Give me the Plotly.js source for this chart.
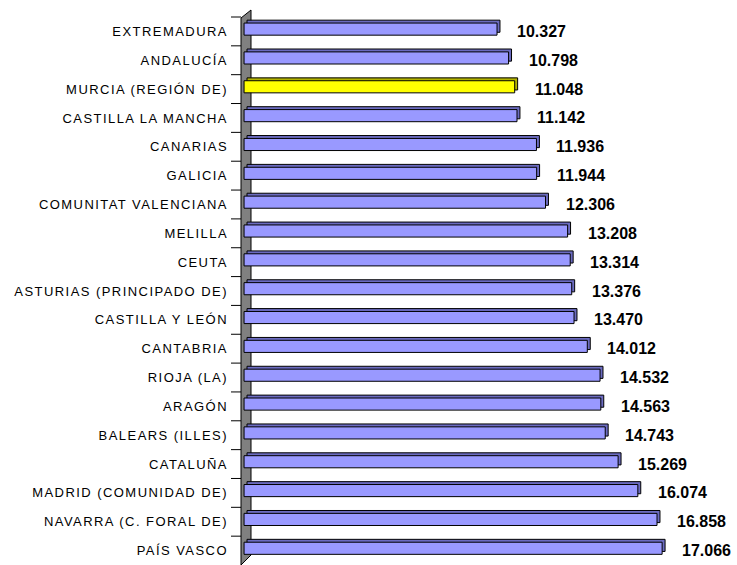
<!DOCTYPE html>
<html>
<head>
<meta charset="utf-8">
<script src="https://cdn.plot.ly/plotly-3.0.1.min.js"></script>
<style>
  html, body { margin: 0; padding: 0; background: #fff; }
  #chart { width: 737px; height: 565px; }
  .ytick text { letter-spacing: 1.45px; }
</style>
</head>
<body>
<div id="chart"></div>
<script>
const categories = [
  'EXTREMADURA', 'ANDALUCÍA', 'MURCIA (REGIÓN DE)', 'CASTILLA LA MANCHA', 'CANARIAS',
  'GALICIA', 'COMUNITAT VALENCIANA', 'MELILLA', 'CEUTA', 'ASTURIAS (PRINCIPADO DE)',
  'CASTILLA Y LEÓN', 'CANTABRIA', 'RIOJA (LA)', 'ARAGÓN', 'BALEARS (ILLES)',
  'CATALUÑA', 'MADRID (COMUNIDAD DE)', 'NAVARRA (C. FORAL DE)', 'PAÍS VASCO'
];
const values = [
  10.327, 10.798, 11.048, 11.142, 11.936,
  11.944, 12.306, 13.208, 13.314, 13.376,
  13.470, 14.012, 14.532, 14.563, 14.743,
  15.269, 16.074, 16.858, 17.066
];
const highlighted = 'MURCIA (REGIÓN DE)';

const frontColors = categories.map(c => c === highlighted ? '#FFFF00' : '#9999FF');
const sideColors = categories.map(c => c === highlighted ? '#B3B300' : '#6B6BC0');

const barWidth = 0.42;
const back = {
  type: 'bar', orientation: 'h', y: categories, x: values,
  base: 0.12, width: barWidth, offset: -0.39,
  marker: { color: sideColors, line: { color: '#000000', width: 1 } },
  hoverinfo: 'skip', showlegend: false
};
const front = {
  type: 'bar', orientation: 'h', y: categories, x: values,
  base: 0, width: barWidth, offset: -0.29,
  marker: { color: frontColors, line: { color: '#000000', width: 1 } },
  showlegend: false
};

const annotations = categories.map((c, i) => ({
  x: values[i], y: c, xref: 'x', yref: 'y',
  text: values[i].toFixed(3), showarrow: false,
  xanchor: 'left', xshift: 18, yshift: 0,
  font: { family: 'Arial, Liberation Sans, sans-serif', size: 16, color: '#000', weight: 'bold' }
}));

const W = 737, H = 565, ml = 241, mr = 3, mt = 17, mb = 0;
const pw = W - ml - mr, ph = H - mt - mb;
const px = x => (x - ml) / pw;
const py = y => (H - mb - y) / ph;
const wallPath = `M ${px(241)},${py(18)} L ${px(251)},${py(10)} L ${px(251)},${py(555)} L ${px(241)},${py(565)} Z`;

const shapes = [{
  type: 'path', xref: 'paper', yref: 'paper', path: wallPath,
  fillcolor: '#808080', line: { color: '#000', width: 1 }, layer: 'below'
}];
// tick marks at category boundaries
for (let i = 0; i < categories.length; i++) {
  const yb = 1 - i / categories.length;
  shapes.push({
    type: 'path', xref: 'paper', yref: 'paper',
    path: `M ${px(231)},${yb} L ${px(241)},${yb}`,
    line: { color: '#000000', width: 1 }, layer: 'above'
  });
}

const layout = {
  width: W, height: H,
  margin: { l: ml, r: mr, t: mt, b: mb, pad: 0 },
  paper_bgcolor: '#ffffff', plot_bgcolor: 'rgba(0,0,0,0)',
  barmode: 'overlay',
  xaxis: { range: [-0.125, 20], visible: false, showgrid: false, zeroline: false },
  yaxis: {
    autorange: 'reversed', type: 'category', automargin: false,
    ticks: '', ticklabelstandoff: 12,
    showline: false, showgrid: false, zeroline: false,
    tickfont: { family: 'Arial, Liberation Sans, sans-serif', size: 13, color: '#000' }
  },
  shapes: shapes,
  annotations: annotations
};

Plotly.newPlot('chart', [back, front], layout, { displayModeBar: false, staticPlot: true });
</script>
</body>
</html>
